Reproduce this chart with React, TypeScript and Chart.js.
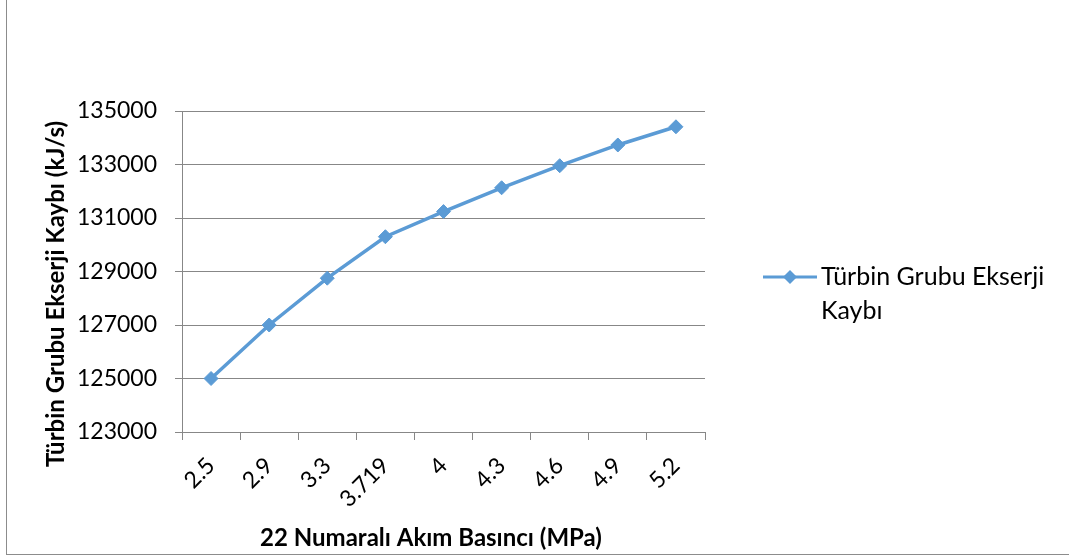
import React, { useEffect, useRef } from 'react';
import { Chart, registerables } from 'chart.js';

Chart.register(...registerables);

// Pressure of stream 22 (MPa) and turbine-group exergy loss (kJ/s)
const pressures = ['2.5', '2.9', '3.3', '3.719', '4', '4.3', '4.6', '4.9', '5.2'];
const exergyLoss = [125000, 127000, 128750, 130300, 131240, 132130, 132955, 133730, 134410];

const seriesName = 'Türbin Grubu Ekserji Kaybı';
const yTitle = 'Türbin Grubu Ekserji Kaybı (kJ/s)';
const xTitle = '22 Numaralı Akım Basıncı (MPa)';

const yMin = 123000;
const yMax = 135000;
const yStep = 2000;

const W = 1069;
const H = 558;
const FONT = 'Lato, "Open Sans", sans-serif';
const BLUE = '#5B9BD5';
const GRID = '#878787';

// Word-wraps the legend label to a maximum width on the given context
function wrap(ctx: CanvasRenderingContext2D, text: string, maxWidth: number): string[] {
  const words = text.split(' ');
  const lines: string[] = [];
  let cur = '';
  for (const w of words) {
    const test = cur ? cur + ' ' + w : w;
    if (ctx.measureText(test).width > maxWidth && cur) {
      lines.push(cur);
      cur = w;
    } else {
      cur = test;
    }
  }
  if (cur) lines.push(cur);
  return lines;
}

// Axis titles and the legend on the right, with wrapped label text
const decorations = {
  id: 'decorations',
  afterDraw(chart: any) {
    const { ctx, chartArea } = chart;
    const ds = chart.data.datasets[0];
    ctx.save();

    // axis titles
    ctx.fillStyle = '#000';
    ctx.font = `bold 24px ${FONT}`;
    ctx.textAlign = 'center';
    ctx.textBaseline = 'middle';
    ctx.fillText(xTitle, chartArea.left + 249, 538);
    ctx.save();
    ctx.translate(56, chartArea.top + 183);
    ctx.rotate(-Math.PI / 2);
    ctx.fillText(yTitle, 0, 0);
    ctx.restore();

    // legend
    const x0 = chartArea.right + 58;
    const y0 = 277;
    ctx.strokeStyle = ds.borderColor;
    ctx.lineWidth = 3;
    ctx.beginPath();
    ctx.moveTo(x0, y0);
    ctx.lineTo(x0 + 54, y0);
    ctx.stroke();
    ctx.fillStyle = ds.pointBackgroundColor;
    const cx = x0 + 27;
    const r = 7;
    ctx.beginPath();
    ctx.moveTo(cx, y0 - r);
    ctx.lineTo(cx + r, y0);
    ctx.lineTo(cx, y0 + r);
    ctx.lineTo(cx - r, y0);
    ctx.closePath();
    ctx.fill();
    ctx.font = `25px ${FONT}`;
    ctx.fillStyle = '#000';
    ctx.textAlign = 'left';
    const lines = wrap(ctx, ds.label, 240);
    lines.forEach((ln, i) => ctx.fillText(ln, x0 + 58, y0 + i * 34));
    ctx.restore();
  },
};

export default function App() {
  const ref = useRef<HTMLCanvasElement>(null);

  useEffect(() => {
    if (!ref.current) return;
    const chart = new Chart(ref.current, {
      type: 'line',
      data: {
        labels: pressures,
        datasets: [
          {
            label: seriesName,
            data: exergyLoss,
            borderColor: BLUE,
            backgroundColor: BLUE,
            pointBackgroundColor: BLUE,
            pointBorderColor: BLUE,
            borderWidth: 3.5,
            pointStyle: 'rectRot',
            pointRadius: 7,
            pointBorderWidth: 1,
            tension: 0,
          },
        ],
      },
      options: {
        responsive: false,
        animation: false,
        layout: { padding: { left: 0, top: 111, right: 364, bottom: 0 } },
        plugins: {
          legend: { display: false },
          tooltip: { enabled: false },
        },
        scales: {
          x: {
            offset: true,
            grid: {
              drawOnChartArea: false,
              drawTicks: true,
              tickLength: 8,
              color: GRID,
              offset: true,
            },
            border: { color: GRID },
            ticks: {
              color: '#000',
              font: { family: FONT, size: 23 },
              minRotation: 45,
              maxRotation: 45,
              padding: 12,
              autoSkip: false,
            },
            afterFit(scale: any) {
              scale.height = 126;
            },
          },
          y: {
            min: yMin,
            max: yMax,
            grid: {
              color: GRID,
              tickLength: 7,
            },
            border: { color: GRID },
            ticks: {
              stepSize: yStep,
              color: '#000',
              font: { family: FONT, size: 23 },
              padding: 18,
              callback: (v: any) => String(v),
            },
            afterFit(scale: any) {
              scale.width = 182;
            },
          },
        },
      },
      plugins: [decorations],
    });
    return () => chart.destroy();
  }, []);

  return (
    <div style={{ position: 'fixed', left: 0, top: 0, width: W, height: H, background: '#fff', overflow: 'hidden' }}>
      <div
        style={{
          position: 'absolute',
          left: 6,
          top: -10,
          width: W + 20,
          height: 565,
          border: '1px solid #8c8c8c',
          boxSizing: 'border-box',
        }}
      />
      <canvas ref={ref} width={W} height={H} style={{ position: 'absolute', left: 0, top: 0 }} />
    </div>
  );
}
